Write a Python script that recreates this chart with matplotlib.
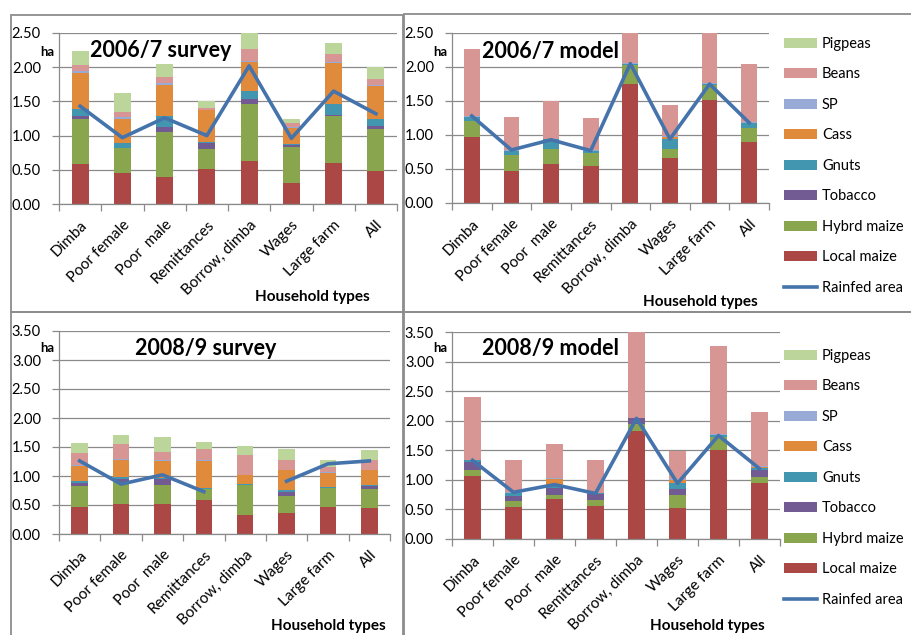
import numpy as np
import matplotlib
matplotlib.use("Agg")
import matplotlib.pyplot as plt
from matplotlib.patches import Patch, Rectangle
from matplotlib.lines import Line2D

plt.rcParams['font.family'] = ['Lato', 'DejaVu Sans']

W, H = 911, 635

# household types (x categories)
households = ['Dimba', 'Poor female', 'Poor  male', 'Remittances',
              'Borrow, dimba', 'Wages', 'Large farm', 'All']

# crops, stacked bottom -> top
crops = ['Local maize', 'Hybrd maize', 'Tobacco', 'Gnuts', 'Cass', 'SP', 'Beans', 'Pigpeas']
crop_colors = ['#AB4744', '#89A64E', '#725A92', '#4296B0', '#E08A3C', '#98AAD6', '#D79594', '#BCD59B']
rain_color = '#4573AB'

# 2006/7 survey (ha)
s07_local = [0.58, 0.46, 0.39, 0.51, 0.63, 0.30, 0.60, 0.48]
s07_hybrid = [0.67, 0.36, 0.66, 0.30, 0.83, 0.54, 0.68, 0.62]
s07_tobacco = [0.04, 0.00, 0.08, 0.08, 0.07, 0.02, 0.02, 0.04]
s07_gnuts = [0.10, 0.07, 0.16, 0.01, 0.12, 0.02, 0.16, 0.10]
s07_cass = [0.53, 0.36, 0.45, 0.47, 0.43, 0.23, 0.60, 0.48]
s07_sp = [0.02, 0.02, 0.03, 0.01, 0.01, 0.01, 0.02, 0.02]
s07_beans = [0.09, 0.08, 0.09, 0.03, 0.18, 0.07, 0.11, 0.09]
s07_pigpeas = [0.20, 0.28, 0.18, 0.09, 0.25, 0.06, 0.16, 0.17]
s07_rainfed = [1.43, 0.97, 1.26, 1.00, 2.02, 0.96, 1.65, 1.32]

# 2006/7 model
m07_local = [0.97, 0.47, 0.57, 0.54, 1.75, 0.66, 1.51, 0.89]
m07_hybrid = [0.23, 0.23, 0.22, 0.19, 0.28, 0.14, 0.22, 0.21]
m07_tobacco = [0, 0, 0, 0, 0, 0, 0, 0]
m07_gnuts = [0.07, 0.07, 0.15, 0.04, 0.02, 0.14, 0.02, 0.08]
m07_cass = [0, 0, 0, 0, 0, 0.03, 0, 0]
m07_sp = [0.01, 0.01, 0.00, 0.01, 0.01, 0.01, 0.01, 0.01]
m07_beans = [0.98, 0.48, 0.56, 0.47, 0.54, 0.46, 0.84, 0.86]
m07_pigpeas = [0, 0, 0, 0, 0, 0, 0, 0]
m07_rainfed = [1.28, 0.78, 0.93, 0.77, 2.05, 0.94, 1.75, 1.18]

# 2008/9 survey
s09_local = [0.46, 0.52, 0.52, 0.58, 0.32, 0.36, 0.47, 0.44]
s09_hybrid = [0.37, 0.38, 0.33, 0.20, 0.52, 0.30, 0.33, 0.33]
s09_tobacco = [0.05, 0.05, 0.09, 0.00, 0.00, 0.07, 0.00, 0.05]
s09_gnuts = [0.03, 0.03, 0.02, 0.01, 0.02, 0.03, 0.01, 0.02]
s09_cass = [0.27, 0.30, 0.30, 0.47, 0.15, 0.34, 0.25, 0.26]
s09_sp = [0.01, 0.02, 0.01, 0.01, 0.01, 0.01, 0.01, 0.01]
s09_beans = [0.21, 0.25, 0.15, 0.19, 0.35, 0.17, 0.09, 0.17]
s09_pigpeas = [0.17, 0.15, 0.26, 0.12, 0.14, 0.18, 0.11, 0.17]
s09_rainfed = [1.26, 0.86, 1.02, 0.73, np.nan, 0.91, 1.21, 1.26]

# 2008/9 model
m09_local = [1.06, 0.54, 0.67, 0.55, 1.82, 0.52, 1.51, 0.94]
m09_hybrid = [0.11, 0.11, 0.07, 0.11, 0.12, 0.23, 0.22, 0.11]
m09_tobacco = [0.13, 0.08, 0.12, 0.10, 0.10, 0.09, 0.00, 0.11]
m09_gnuts = [0.03, 0.05, 0.05, 0.01, 0.01, 0.10, 0.03, 0.04]
m09_cass = [0.00, 0.00, 0.11, 0.00, 0.00, 0.06, 0.00, 0.02]
m09_sp = [0.01, 0.02, 0.01, 0.00, 0.00, 0.01, 0.01, 0.02]
m09_beans = [1.06, 0.53, 0.57, 0.56, 1.55, 0.47, 1.50, 0.91]
m09_pigpeas = [0, 0, 0, 0, 0, 0, 0, 0]
m09_rainfed = [1.33, 0.79, 0.92, 0.77, 2.04, 0.94, 1.75, 1.19]


def px(x, y):
    return x / W, 1 - y / H


def add_panel(fig, box, title, stacks, rainfed, ymax, title_pos, ha_pos, xlab_px):
    left, top, right, bottom = box
    ax = fig.add_axes([left / W, 1 - bottom / H, (right - left) / W, (bottom - top) / H])
    x = np.arange(len(households))
    base = np.zeros(len(households))
    for vals, c in zip(stacks, crop_colors):
        vals = np.array(vals, dtype=float)
        ax.bar(x, vals, 0.4, bottom=base, color=c, linewidth=0, zorder=2)
        base += vals
    ax.plot(x, rainfed, color=rain_color, lw=2.6, zorder=3)

    ax.set_xlim(-0.5, len(households) - 0.5)
    ax.set_ylim(0, ymax)
    ax.set_yticks(np.arange(0, ymax + 0.01, 0.5))
    ax.yaxis.set_major_formatter(matplotlib.ticker.FormatStrFormatter('%.2f'))
    ax.grid(axis='y', color='#8a8a8a', lw=0.9, zorder=0)
    ax.set_axisbelow(True)
    ax.set_xticks(x, households, rotation=45, ha='right', rotation_mode='anchor')
    ax.set_xticks(np.arange(-0.5, len(households)), minor=True)
    ax.tick_params(axis='x', which='major', length=0, pad=10, labelsize=11)
    ax.tick_params(axis='x', which='minor', length=5, color='#8a8a8a', width=0.9)
    ax.tick_params(axis='y', length=5, color='#8a8a8a', width=0.9, pad=8, labelsize=10.5)
    for s in ['top', 'right']:
        ax.spines[s].set_visible(False)
    for s in ['left', 'bottom']:
        ax.spines[s].set_color('#8a8a8a')
        ax.spines[s].set_linewidth(0.9)

    ax.text(title_pos[0], title_pos[1], title, transform=ax.transAxes,
            ha='center', va='center', fontsize=15.5, fontweight='bold')
    ax.text(-0.036, ha_pos, 'ha', transform=ax.transAxes,
            ha='center', va='center', fontsize=9.5, fontweight='bold')
    fig.text(*px(*xlab_px), 'Household types', ha='center', va='center',
             fontsize=11, fontweight='bold')
    return ax


fig = plt.figure(figsize=(W / 100, H / 100), dpi=100)

# panel frames
for (x0, y0, x1, y1) in [(11, 15, 403, 312), (404, 14, 920, 312),
                         (11, 312, 403, 645), (404, 312, 920, 645)]:
    fig.add_artist(Rectangle(px(x0, y1), (x1 - x0) / W, (y1 - y0) / H,
                             transform=fig.transFigure, fill=False,
                             edgecolor='#8c8c8c', lw=1.3))

add_panel(fig, (59, 33, 397, 204), '2006/7 survey',
          [s07_local, s07_hybrid, s07_tobacco, s07_gnuts, s07_cass, s07_sp, s07_beans, s07_pigpeas],
          s07_rainfed, 2.5, (0.30, 0.90), 0.889, (312, 297))
add_panel(fig, (452, 33, 769, 203), '2006/7 model',
          [m07_local, m07_hybrid, m07_tobacco, m07_gnuts, m07_cass, m07_sp, m07_beans, m07_pigpeas],
          m07_rainfed, 2.5, (0.31, 0.89), 0.889, (700, 302))
add_panel(fig, (59, 331, 390, 534), '2008/9 survey',
          [s09_local, s09_hybrid, s09_tobacco, s09_gnuts, s09_cass, s09_sp, s09_beans, s09_pigpeas],
          s09_rainfed, 3.5, (0.444, 0.916), 0.916, (328, 626))
add_panel(fig, (452, 332, 780, 539), '2008/9 model',
          [m09_local, m09_hybrid, m09_tobacco, m09_gnuts, m09_cass, m09_sp, m09_beans, m09_pigpeas],
          m09_rainfed, 3.5, (0.30, 0.92), 0.923, (707, 626))

# legends (top crop first)
handles = [Patch(facecolor=c, edgecolor='none') for c in crop_colors[::-1]]
handles.append(Line2D([0], [0], color=rain_color, lw=2.6))
labels = crops[::-1] + ['Rainfed area']
for top, sp in ((37, 1.13), (349, 1.13)):
    fig.legend(handles, labels, loc='upper left', bbox_to_anchor=px(784, top),
               frameon=False, fontsize=10.5, borderpad=0, borderaxespad=0,
               handlelength=2.26, handleheight=0.68, handletextpad=0.35,
               labelspacing=sp)

fig.savefig('out.png', dpi=100)
